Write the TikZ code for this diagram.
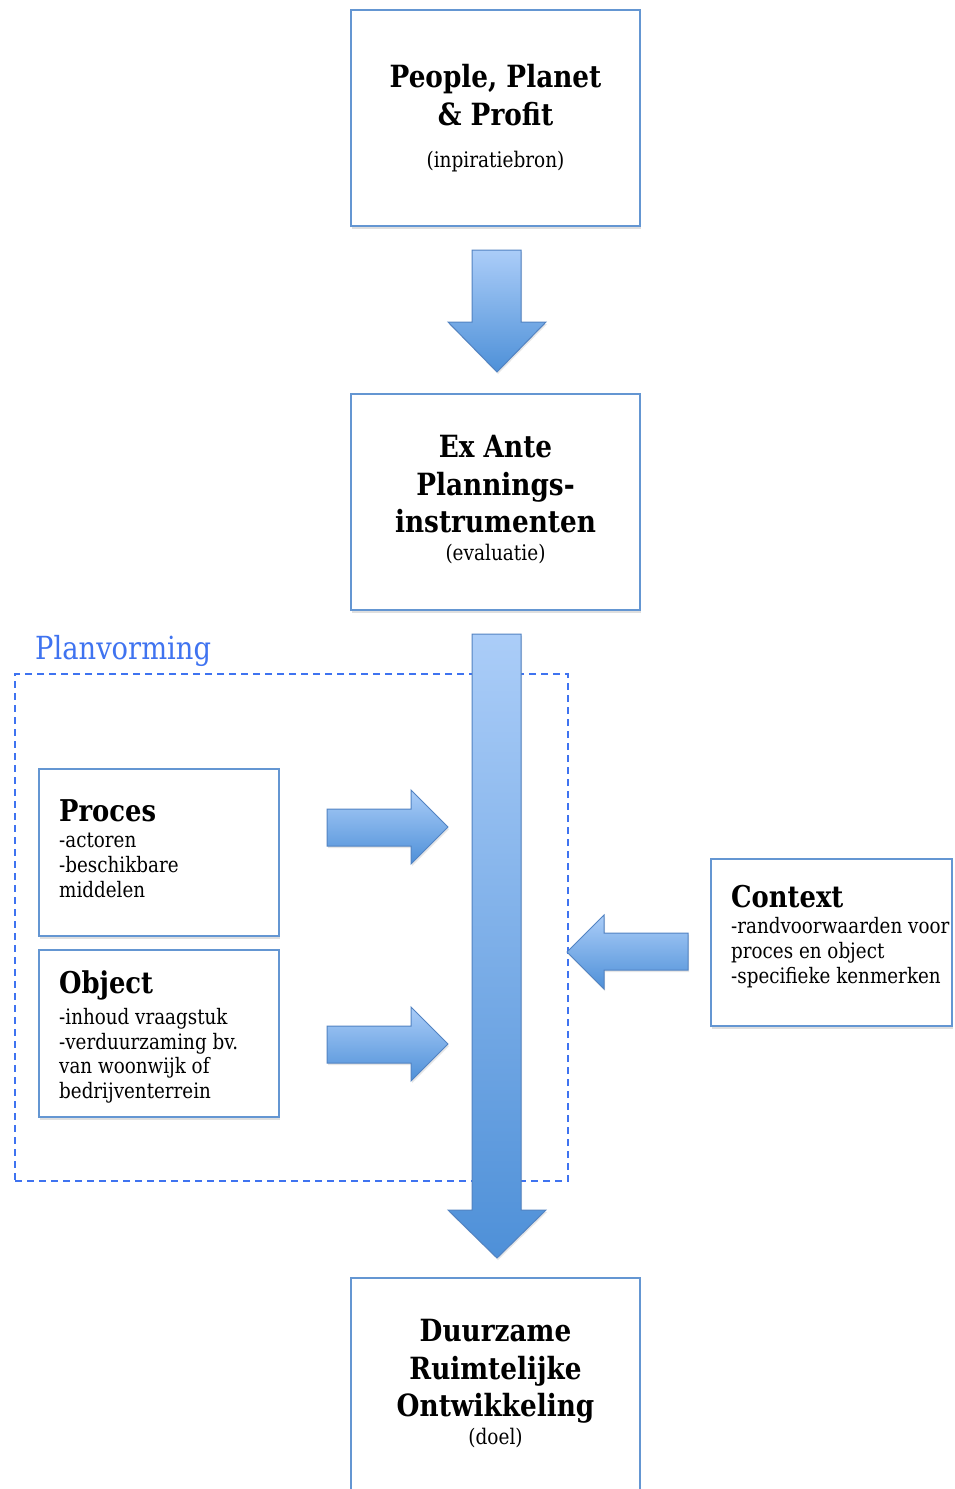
\documentclass[tikz,border=0pt]{standalone}
\usepackage{fontspec}
\setmainfont{DejaVu Serif}[FakeStretch=0.86]
\usetikzlibrary{shadows}
\definecolor{boxblue}{HTML}{6496D2}
\definecolor{arrowtop}{HTML}{ABCDF8}
\definecolor{arrowbot}{HTML}{4E90D8}
\definecolor{arrowedge}{HTML}{5283C2}
\definecolor{planblue}{HTML}{3F73F0}
\begin{document}
\begin{tikzpicture}[x=1pt,y=-1pt,
  box/.style={draw=boxblue, line width=1.6pt, fill=white, inner sep=0pt,
    drop shadow={opacity=0.25, shadow xshift=1pt, shadow yshift=-3pt}},
  bigbox/.style={box, minimum width=289pt, minimum height=216pt},
  smallbox/.style={box, minimum width=240pt, minimum height=167pt},
  blockarrow/.style={draw=arrowedge, line width=1pt, top color=arrowtop, bottom color=arrowbot,
    drop shadow={opacity=0.2, shadow xshift=1pt, shadow yshift=-2pt}},
  titletext/.style={anchor=base, inner sep=0pt, font=\fontsize{30.6}{38}\selectfont\bfseries},
  subtext/.style={anchor=base, inner sep=0pt, font=\fontsize{21.5}{25}\selectfont},
  headtext/.style={anchor=base west, inner sep=0pt, font=\fontsize{30}{32}\selectfont\bfseries},
  itemtext/.style={anchor=base west, inner sep=0pt, font=\fontsize{21.3}{25}\selectfont},
  planframe/.style={draw=planblue, line width=1.4pt, dash pattern=on 7pt off 5pt, inner sep=0pt}]
\useasboundingbox (0,0) rectangle (954,1489);

% dashed frame
\node[planframe, minimum width=553pt, minimum height=507pt] (plan) at (291.5,927.5) {};
\node[anchor=base west, inner sep=0pt, text=planblue, font=\fontsize{31.8}{34}\selectfont] (planlabel) at (35,659) {Planvorming};

% top box
\node[bigbox] (pp) at (495.5,118) {};
\node[titletext] (pp1) at (495.5,87) {People, Planet};
\node[titletext] (pp2) at (495.5,125) {\& Profit};
\node[subtext] (pp3) at (495.5,167) {(inpiratiebron)};

% arrow 1
\path[blockarrow] (472,250) -- (521,250) -- (521,322) -- (546,322) -- (497,372) -- (448,322) -- (472,322) -- cycle;

% ex ante box
\node[bigbox] (ea) at (495.5,502) {};
\node[titletext] (ea1) at (495.5,457) {Ex Ante};
\node[titletext] (ea2) at (495.5,495) {Plannings-};
\node[titletext] (ea3) at (495.5,532) {instrumenten};
\node[subtext] (ea4) at (495.5,560) {(evaluatie)};

% bottom box
\node[bigbox] (dro) at (495.5,1386) {};
\node[titletext] (dro1) at (495.5,1341) {Duurzame};
\node[titletext] (dro2) at (495.5,1379) {Ruimtelijke};
\node[titletext] (dro3) at (495.5,1416) {Ontwikkeling};
\node[subtext] (dro4) at (495.5,1444) {(doel)};

% proces box
\node[smallbox] (proces) at (159,852.5) {};
\node[headtext] (pr1) at (59,821) {Proces};
\node[itemtext] (pr2) at (59,847) {-actoren};
\node[itemtext] (pr3) at (59,872) {-beschikbare};
\node[itemtext] (pr4) at (59,897) {middelen};

% object box
\node[smallbox] (object) at (159,1033.5) {};
\node[headtext] (ob1) at (59,993) {Object};
\node[itemtext] (ob2) at (59,1024) {-inhoud vraagstuk};
\node[itemtext] (ob3) at (59,1049) {-verduurzaming bv.};
\node[itemtext] (ob4) at (59,1073) {van woonwijk of};
\node[itemtext] (ob5) at (59,1098) {bedrijventerrein};

% context box
\node[smallbox, minimum width=241pt] (context) at (831.5,942.5) {};
\node[headtext] (cx1) at (731,907) {Context};
\node[itemtext] (cx2) at (731,933) {-randvoorwaarden voor};
\node[itemtext] (cx3) at (731,958) {proces en object};
\node[itemtext] (cx4) at (731,983) {-specifieke kenmerken};

% side arrows
\path[blockarrow] (327,809) -- (411,809) -- (411,790) -- (448,827) -- (411,864) -- (411,846) -- (327,846) -- cycle;
\path[blockarrow] (327,1026) -- (411,1026) -- (411,1007) -- (448,1044) -- (411,1081) -- (411,1063) -- (327,1063) -- cycle;
\path[blockarrow] (688,933) -- (604,933) -- (604,915) -- (567,952) -- (604,989) -- (604,970) -- (688,970) -- cycle;

% big arrow
\path[blockarrow] (472,634) -- (521,634) -- (521,1210) -- (546,1210) -- (497,1258) -- (448,1210) -- (472,1210) -- cycle;
\end{tikzpicture}
\end{document}
